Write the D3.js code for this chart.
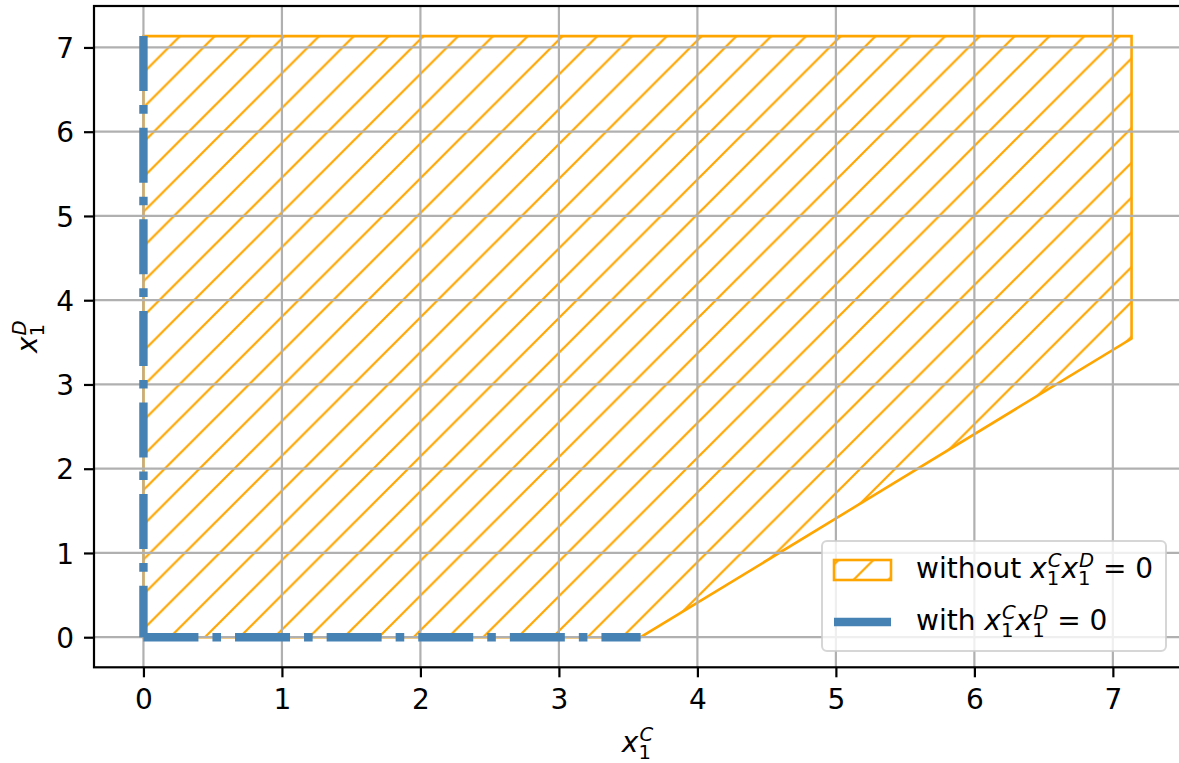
<!DOCTYPE html>
<html>
<head>
<meta charset="utf-8">
<script src="https://cdn.jsdelivr.net/npm/d3@7"></script>
<style>
  body { margin: 0; background: #fff; }
  svg { display: block; font-family: "DejaVu Sans", sans-serif; }
</style>
</head>
<body>
<svg id="chart" width="1179" height="763"></svg>
<script>
// region without the complementarity constraint (hatched polygon)
const regionX = [0, 0, 7.135, 7.135, 3.59];
const regionY = [0, 7.135, 7.135, 3.545, 0];

// region with x1C * x1D = 0 : two pieces along the axes
const withVertX = [0, 0];
const withVertY = [7.135, 0];
const withHorX = [0, 3.59];
const withHorY = [0, 0];

const xTicks = [0, 1, 2, 3, 4, 5, 6, 7];
const yTicks = [0, 1, 2, 3, 4, 5, 6, 7];
const legendWords = ["without ", "with "];

const fs = 28; // base font size
const orange = "#FFA500", blue = "#4682B4";

const svg = d3.select("#chart");

const x = d3.scaleLinear().domain([-0.357, 7.492]).range([94, 1181]);
const y = d3.scaleLinear().domain([-0.357, 7.492]).range([667.3, 6]);

// hatch pattern, "/" style
const hs = 34.78;
const defs = svg.append("defs");
const pat = defs.append("pattern")
    .attr("id", "hatch")
    .attr("patternUnits", "userSpaceOnUse")
    .attr("width", hs)
    .attr("height", hs)
    .attr("patternTransform", "translate(7.4,0)");
pat.append("path")
    .attr("d", `M0,${hs} L${hs},0 M-2,2 L2,-2 M${hs - 2},${hs + 2} L${hs + 2},${hs - 2}`)
    .style("stroke", orange)
    .style("stroke-width", 2.2)
    .style("fill", "none");

defs.append("clipPath").attr("id", "plotclip")
    .append("rect")
    .attr("x", 94).attr("y", 6)
    .attr("width", 1181 - 94).attr("height", 667.3 - 6);

const plot = svg.append("g").attr("clip-path", "url(#plotclip)");

// hatched polygon
const regionPts = regionX.map((d, i) => [x(d), y(regionY[i])]);
plot.append("polygon")
    .attr("points", regionPts.map(p => p.join(",")).join(" "))
    .style("fill", "url(#hatch)")
    .style("stroke", orange)
    .style("stroke-width", 2.6)
    .style("stroke-linejoin", "miter");

// grid (drawn above patches, below lines)
xTicks.forEach(t => {
    plot.append("line")
        .attr("x1", x(t)).attr("x2", x(t))
        .attr("y1", 6).attr("y2", 667.3)
        .style("stroke", "#b0b0b0")
        .style("stroke-width", 2.2);
});
yTicks.forEach(t => {
    plot.append("line")
        .attr("x1", 94).attr("x2", 1181)
        .attr("y1", y(t)).attr("y2", y(t))
        .style("stroke", "#b0b0b0")
        .style("stroke-width", 2.2);
});

// dash-dot lines on the axes
const line = d3.line().x(d => x(d[0])).y(d => y(d[1]));
const dashes = "55,14,8.6,14";
[[withVertX, withVertY], [withHorX, withHorY]].forEach(([xs, ys]) => {
    plot.append("path")
        .attr("d", line(xs.map((d, i) => [d, ys[i]])))
        .style("fill", "none")
        .style("stroke", blue)
        .style("stroke-width", 8.4)
        .style("stroke-dasharray", dashes);
});

// spines
svg.append("rect")
    .attr("x", 94).attr("y", 6)
    .attr("width", 1181 - 94).attr("height", 667.3 - 6)
    .style("fill", "none")
    .style("stroke", "black")
    .style("stroke-width", 2.2);

// axes
const xAxis = svg.append("g")
    .attr("transform", "translate(0,667.3)")
    .call(d3.axisBottom(x).tickValues(xTicks).tickSize(10).tickFormat(d3.format("d")));
const yAxis = svg.append("g")
    .attr("transform", "translate(94,0)")
    .call(d3.axisLeft(y).tickValues(yTicks).tickSize(10).tickFormat(d3.format("d")));

[xAxis, yAxis].forEach(a => {
    a.select(".domain").remove();
    a.selectAll(".tick line").style("stroke", "black").style("stroke-width", 2.2);
    a.selectAll(".tick text")
        .style("font-family", "DejaVu Sans")
        .style("font-size", fs + "px")
        .style("fill", "black");
});
xAxis.selectAll(".tick text").attr("y", 42).attr("dy", null);
yAxis.selectAll(".tick text").attr("x", -20).attr("dy", "0.36em");

// measure a string with a throwaway text node
function measure(str, size, italic) {
    const t = svg.append("text")
        .style("font-size", size + "px")
        .style("font-style", italic ? "italic" : "normal")
        .style("white-space", "pre")
        .text(str);
    const w = t.node().getComputedTextLength();
    t.remove();
    return w;
}

// small mathtext-like builder, one <text> with positioned tspans
// parts are {s, it} or {s, it, sup, sub}
function mathText(parent, parts, size) {
    const t = parent.append("text")
        .style("font-size", size + "px")
        .style("white-space", "pre");
    let cx = 0;
    parts.forEach(p => {
        t.append("tspan")
            .attr("x", cx).attr("y", 0)
            .style("font-style", p.it ? "italic" : "normal")
            .text(p.s);
        cx += measure(p.s, size, p.it);
        let w = 0;
        if (p.sup) {
            t.append("tspan")
                .attr("x", cx + 1).attr("y", -0.38 * size)
                .style("font-size", 0.7 * size + "px")
                .style("font-style", "italic")
                .text(p.sup);
            w = Math.max(w, measure(p.sup, 0.7 * size, true) + 1);
        }
        if (p.sub) {
            t.append("tspan")
                .attr("x", cx).attr("y", 0.25 * size)
                .style("font-size", 0.7 * size + "px")
                .style("font-style", "normal")
                .text(p.sub);
            w = Math.max(w, measure(p.sub, 0.7 * size, false));
        }
        cx += w;
    });
    return { t: t, width: cx };
}

const productParts = [
    { s: "x", it: true, sup: "C", sub: "1" },
    { s: "x", it: true, sup: "D", sub: "1" },
    { s: " = 0", it: false }
];

// x label
const xl = mathText(svg, [{ s: "x", it: true, sup: "C", sub: "1" }], fs);
xl.t.attr("transform", `translate(${(94 + 1181) / 2 - xl.width / 2},752)`);

// y label
const yl = mathText(svg, [{ s: "x", it: true, sup: "D", sub: "1" }], fs);
yl.t.attr("transform", `translate(37,${(6 + 667.3) / 2 + yl.width / 2}) rotate(-90)`);

// legend
const legend = svg.append("g");
legend.append("rect")
    .attr("x", 822).attr("y", 541)
    .attr("width", 344).attr("height", 110)
    .attr("rx", 5)
    .style("fill", "white")
    .style("fill-opacity", 0.8)
    .style("stroke", "#cccccc")
    .style("stroke-opacity", 0.8)
    .style("stroke-width", 2);

legend.append("rect")
    .attr("x", 834).attr("y", 560)
    .attr("width", 57).attr("height", 20)
    .style("fill", "url(#hatch)")
    .style("stroke", orange)
    .style("stroke-width", 2.6);

legend.append("line")
    .attr("x1", 834).attr("x2", 891)
    .attr("y1", 622).attr("y2", 622)
    .style("stroke", blue)
    .style("stroke-width", 8.4);

legendWords.forEach((w, i) => {
    const m = mathText(legend, [{ s: w, it: false }].concat(productParts), fs);
    m.t.attr("transform", `translate(916,${i === 0 ? 578 : 630})`);
});
</script>
</body>
</html>
